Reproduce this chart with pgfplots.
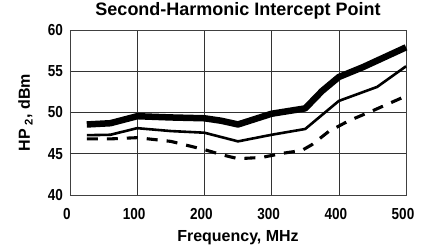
\documentclass[border=0pt]{standalone}
\usepackage{fontspec}
\setmainfont{Liberation Sans}
\usepackage{graphicx}
\usepackage{pgfplots}
\pgfplotsset{compat=1.18}
\newcommand\tl[1]{\scalebox{1}[1.18]{#1}}
\begin{document}
\begin{tikzpicture}
\path[use as bounding box] (-70pt,-50pt) rectangle (352pt,195pt);
\begin{axis}[
  at={(0pt,0pt)}, anchor=south west,
  scale only axis, width=336pt, height=165pt,
  xmin=0, xmax=500, ymin=40, ymax=60,
  xtick={0,100,200,300,400,500},
  xticklabels={\tl{0},\tl{100},\tl{200},\tl{300},\tl{400},\tl{500}},
  ytick={40,50,55,60},
  yticklabels={\tl{40},\tl{50},\tl{55},\tl{60}},
  extra y ticks={45}, extra y tick labels={\tl{45}},
  extra tick style={grid style={black!40, line width=1.1pt}},
  grid=major,
  major grid style={black!80, line width=0.6pt},
  major tick length=0pt,
  axis line style={black!75, line width=0.9pt},
  ticklabel style={font=\bfseries\fontsize{13.5}{14}\selectfont},
  xticklabel style={anchor=north, inner sep=0pt, yshift=-13pt, xshift=-3pt},
  yticklabel style={anchor=east, inner sep=0pt, xshift=-7pt},
  title={\bfseries\fontsize{18}{20}\selectfont Second-Harmonic Intercept Point},
  title style={at={(axis description cs:0.5,1)}, anchor=base, inner sep=0pt, yshift=8.3pt},
  xlabel={\bfseries\fontsize{16}{18}\selectfont Frequency, MHz},
  xlabel style={at={(axis description cs:0.5,0)}, anchor=base, inner sep=0pt, yshift=-46.5pt},
  ylabel={\bfseries\fontsize{16}{18}\selectfont HP\kern3pt\textsubscript{2}\kern1pt, dBm},
  ylabel style={at={([xshift=-40pt]axis description cs:0,0.5)}, anchor=base, inner sep=0pt},
  clip=false,
]
% thick
\addplot[black, line width=6.5pt, line join=round] coordinates {
 (25,48.55) (60,48.7) (100,49.55) (150,49.4) (200,49.3) (225,49.0) (250,48.55)
 (300,49.85) (350,50.5) (375,52.6) (400,54.3) (436,55.5) (500,57.9)};
% thin solid
\addplot[black, line width=2.6pt, line join=round] coordinates {
 (25,47.25) (60,47.3) (100,48.1) (150,47.75) (200,47.55) (250,46.5)
 (300,47.3) (350,48.0) (400,51.4) (457,53.1) (500,55.6)};
% dashed
\addplot[black, line width=3.1pt, dash pattern=on 11pt off 9pt] coordinates {
 (25,46.8) (60,46.8) (100,46.95) (150,46.5) (200,45.5) (225,44.9) (250,44.4)
 (285,44.55) (320,45.1) (345,45.4) (360,46.1) (385,47.7) (415,49.0) (450,50.2) (500,52.0)};
\end{axis}
\end{tikzpicture}
\end{document}
